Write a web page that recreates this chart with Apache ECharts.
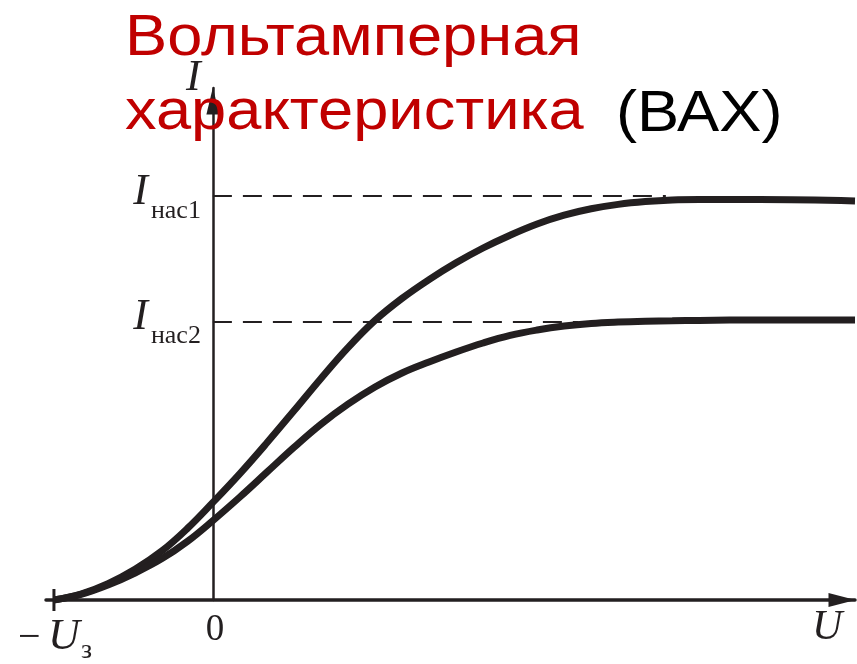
<!DOCTYPE html>
<html lang="ru">
<head>
<meta charset="UTF-8">
<title>Вольтамперная характеристика</title>
<script src="https://cdn.jsdelivr.net/npm/echarts@6/dist/echarts.min.js"></script>
<style>html,body{margin:0;padding:0;background:#fff;}</style>
</head>
<body>
<div id="main" style="width:857px;height:664px;"></div>
<script>
// U в долях U_з, I в долях I_нас1
var uVals = [-1.0, -0.83, -0.66, -0.49, -0.32, -0.16, 0, 0.17, 0.34, 0.51, 0.68, 0.85, 1.02, 1.19, 1.36, 1.53, 1.70, 1.87, 2.04, 2.21, 2.38, 2.55, 2.72, 2.89, 3.06, 3.44, 4.04];
var i1 = [0, 0.015, 0.041, 0.077, 0.123, 0.179, 0.244, 0.316, 0.393, 0.473, 0.554, 0.631, 0.699, 0.754, 0.801, 0.843, 0.880, 0.912, 0.940, 0.962, 0.978, 0.989, 0.996, 1.0, 1.001, 1.001, 0.9975];
var i2 = [0, 0.014, 0.0375, 0.0675, 0.1035, 0.1465, 0.1985, 0.2575, 0.3195, 0.3815, 0.4395, 0.4895, 0.5325, 0.5675, 0.595, 0.62, 0.6425, 0.6615, 0.675, 0.685, 0.6915, 0.695, 0.697, 0.698, 0.699, 0.70, 0.70];

var iSat = [1.01, 0.696];      // уровни I_нас1, I_нас2
var satEnd = [2.85, 2.30];     // где пунктир уходит под кривую
var satSub = ['нас1', 'нас2'];
var uZap = -1;                 // -U_з

var ink = '#231f20';
var red = '#c00000';
var serif = '"Liberation Serif", "DejaVu Serif", serif';
var sans = '"Liberation Sans", Arial, sans-serif';

function pairs(xs, ys) {
    var out = [];
    for (var k = 0; k < xs.length; k++) out.push([xs[k], ys[k]]);
    return out;
}

var myChart = echarts.init(document.getElementById('main'));

var option = {
    animation: false,
    grid: { left: 46, right: 2, top: 88, bottom: 64 },
    xAxis: {
        type: 'value', min: -1.05, max: 4.04,
        splitLine: { show: false }, axisTick: { show: false }, axisLabel: { show: false },
        axisLine: {
            onZero: true,
            symbol: ['none', 'triangle'], symbolSize: [14, 27], symbolOffset: [0, -13],
            lineStyle: { color: ink, width: 3.5 }
        }
    },
    yAxis: {
        type: 'value', min: 0, max: 1.28,
        splitLine: { show: false }, axisTick: { show: false }, axisLabel: { show: false },
        axisLine: {
            onZero: true,
            symbol: ['none', 'triangle'], symbolSize: [13, 27], symbolOffset: [0, -13],
            lineStyle: { color: ink, width: 2.5 }
        }
    },
    series: [
        {
            type: 'line', data: pairs(uVals, i1), smooth: 0.4,
            showSymbol: false, lineStyle: { color: ink, width: 7 },
            markLine: {
                silent: true, symbol: 'none', label: { show: false },
                lineStyle: { color: ink, width: 2, type: [19, 11] },
                data: [
                    [{ coord: [0, iSat[0]] }, { coord: [satEnd[0], iSat[0]] }],
                    [{ coord: [0, iSat[1]] }, { coord: [satEnd[1], iSat[1]] }]
                ]
            }
        },
        {
            type: 'line', data: pairs(uVals, i2), smooth: 0.4,
            showSymbol: false, lineStyle: { color: ink, width: 7 }
        }
    ]
};
myChart.setOption(option);

function px(v) { return myChart.convertToPixel({ gridIndex: 0 }, v); }
var o = px([0, 0]);
var z = px([uZap, 0]);
var s1 = px([0, iSat[0]]);
var s2 = px([0, iSat[1]]);

function txt(x, y, str, font, color, align, sx) {
    return {
        type: 'text', x: x, y: y, z: 10, scaleX: sx || 1,
        style: { text: str, font: font, fill: color, textAlign: align || 'left', align: align || 'left',
                 textVerticalAlign: 'middle', verticalAlign: 'middle' }
    };
}

var g = [
    // штрих на -U_з
    { type: 'line', z: 5, shape: { x1: z[0], y1: z[1] - 11, x2: z[0], y2: z[1] + 11 }, style: { stroke: ink, lineWidth: 3 } },
    txt(o[0] - 27, 78, 'I', 'italic 44px ' + serif, ink, 'left'),
    txt(o[0] + 2, o[1] + 30, '0', '37px ' + serif, ink, 'center'),
    txt(18, o[1] + 38, '\u2212', '40px ' + serif, ink, 'left'),
    txt(48, o[1] + 37, 'U', 'italic 44px ' + serif, ink, 'left'),
    txt(81, o[1] + 51, 'з', '28px ' + serif, ink, 'left'),
    txt(812, o[1] + 28, 'U', 'italic 42px ' + serif, ink, 'left'),
    // заголовок
    txt(125, 39, 'Вольтамперная', '58px ' + sans, red, 'left', 1.09),
    txt(125, 113, 'характеристика', '58px ' + sans, red, 'left', 1.09),
    txt(616, 115, '(ВАХ)', '58px ' + sans, '#000', 'left', 1.09)
];
[s1, s2].forEach(function (p, k) {
    g.push(txt(p[0] - 65, p[1] - 4, 'I', 'italic 44px ' + serif, ink, 'right'));
    g.push(txt(p[0] - 12, p[1] + 15, satSub[k], '26px ' + serif, ink, 'right'));
});
myChart.setOption({ graphic: g });
</script>
</body>
</html>
